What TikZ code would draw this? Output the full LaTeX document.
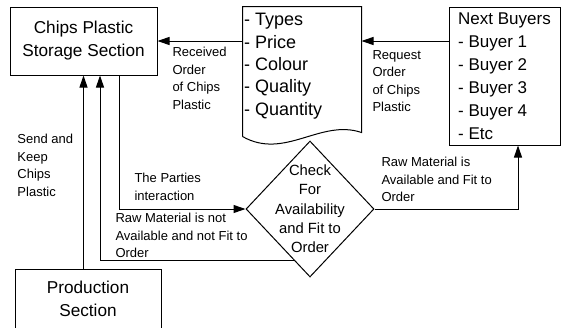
\documentclass[tikz,border=0pt]{standalone}
\usepackage{fontspec}
\setmainfont{Liberation Sans}
\usetikzlibrary{arrows.meta,positioning,calc,shapes.geometric}

\begin{document}
\begin{tikzpicture}[
        x=0.5pt, y=-0.5pt,
        line width=0.5pt,
        every node/.style={align=left, inner sep=0pt},
        block/.style={draw, rectangle, align=center, font=\fontsize{8.6}{11.5}\selectfont},
        listbox/.style={rectangle, minimum width=59pt, minimum height=64.5pt},
        decision/.style={draw, diamond, minimum width=64pt, minimum height=68pt},
        note/.style={anchor=north west, font=\fontsize{6.5}{8.7}\selectfont},
        flow/.style={-{Triangle[length=6pt,width=4pt]}}
    ]
        \useasboundingbox (0,0) rectangle (562,327);

        % boxes
        \node[block, minimum width=73.5pt, minimum height=34pt] (storage) at (83.5,41) {Chips Plastic\\Storage Section};
        \node[listbox, label={[anchor=north west, label distance=0pt, inner xsep=0.6pt, inner ysep=3.2pt, font=\fontsize{9}{11.2}\selectfont]north west:{- Types\\- Price\\- Colour\\- Quality\\- Quantity}}] (spec) at (302,71.5) {};
        \node[block, align=left, font=\fontsize{8.5}{11.5}\selectfont, minimum width=55.5pt, minimum height=69pt] (buyers) at (504.5,76) {Next Buyers\\- Buyer 1\\- Buyer 2\\- Buyer 3\\- Buyer 4\\- Etc};
        \node[decision, label={[align=center, font=\fontsize{7.4}{9.65}\selectfont]center:{Check\\For\\Availability\\and Fit to\\Order}}] (check) at (310,209) {};
        \node[block, minimum width=73pt, minimum height=30pt] (production) at (88,299) {Production\\Section};

        % document outline with wavy bottom
        \draw (spec.south west) -- (spec.north west) -- (spec.north east) -- ([shift={(0,-4)}]spec.south east)
            .. controls +(-41,-14) and +(42,24) .. (spec.south west);

        % labels
        \node[note] (recvnote) at (172,47) {Received\\Order\\of Chips\\Plastic};
        \node[note] (reqnote) at (372,50) {Request\\Order\\of Chips\\Plastic};
        \node[note] (sendnote) at (17,134) {Send and\\Keep\\Chips\\Plastic};
        \node[note] (partiesnote) at (134,173) {The Parties\\interaction};
        \node[note] (notfitnote) at (115,213) {Raw Material is not\\Available and not Fit to\\Order};
        \node[note] (fitnote) at (381,157) {Raw Material is\\Available and Fit to\\Order};

        % connectors
        \draw[flow] (buyers.west |- storage.east) -- (spec.east |- storage.east);
        \draw[flow] (spec.west |- storage.east) -- (storage.east);
        \draw[flow] ([xshift=18pt]storage.south) |- (check.west);
        \draw[flow] ($(check.west)!0.75!(check.south)$) -| ([xshift=8.25pt]storage.south);
        \draw[flow] (production.north -| storage.south) -- (storage.south);
        \draw[flow] (check.east) -| ([xshift=6.75pt]buyers.south);
    \end{tikzpicture}
\end{document}
